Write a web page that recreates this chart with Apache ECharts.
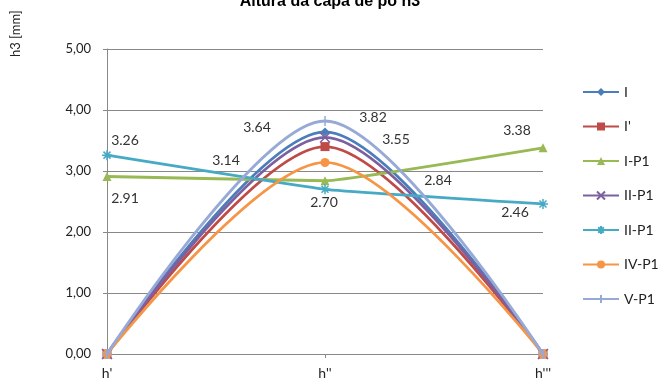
<!DOCTYPE html>
<html><head><meta charset="utf-8">
<script src="https://cdn.jsdelivr.net/npm/echarts@6/dist/echarts.min.js"></script>
<style>html,body{margin:0;padding:0;background:#fff}#c{width:660px;height:383px}</style>
</head><body><div id="c"></div>
<script>
const categories = ["h'", "h''", "h'''"];
const seriesNames = ["I", "I'", "I-P1", "II-P1", "II-P1 ", "IV-P1", "V-P1"];
const valI    = [0, 3.64, 0];
const valI2   = [0, 3.40, 0];
const valIP1  = [2.91, 2.84, 3.38];
const valIIP1 = [0, 3.55, 0];
const valIIIP1= [3.26, 2.70, 2.46];
const valIVP1 = [0, 3.14, 0];
const valVP1  = [0, 3.82, 0];
const yTicks = [0, 1, 2, 3, 4, 5];

const colors = ['#4A7EBB', '#BE4B48', '#98B954', '#7D60A0', '#46AAC5', '#F69546', '#97A9D6'];
const symbols = [
  'diamond', 'rect', 'triangle',
  'path://M0,0L10,10M10,0L0,10',
  'path://M5,0L5,10M0,5L10,5M1.5,1.5L8.5,8.5M8.5,1.5L1.5,8.5',
  'circle',
  'path://M5,0L5,10M0,5L10,5'
];
const strokeSym = [false, false, false, true, true, false, true];
const smoothing = [0.3, 0.3, 0.08, 0.3, 0.08, 0.3, 0.3];
const values = [valI, valI2, valIP1, valIIP1, valIIIP1, valIVP1, valVP1];
// label offsets (style only) per series per point; null = no label
const labelOffsets = [
  [null, [-68, -4], null],
  [null, null, null],
  [[18, 22], [113, 0], [-26, -17]],
  [null, [71, 2], null],
  [[18, -15], [-1, 13], [-28, 9]],
  [null, [-99, -2], null],
  [null, [48, -3], null]
];

const series = seriesNames.map((name, i) => ({
  name, type: 'line', smooth: smoothing[i],
  symbol: symbols[i], symbolSize: strokeSym[i] ? 10 : 9,
  showAllSymbol: true,
  lineStyle: { color: colors[i], width: 2.8 },
  itemStyle: strokeSym[i]
    ? { color: colors[i], borderColor: colors[i], borderWidth: 1.5 }
    : { color: colors[i] },
  z: 2 + i,
  data: values[i].map((v, j) => {
    const off = labelOffsets[i][j];
    return {
      value: v,
      label: off ? {
        show: true, position: 'inside', offset: off,
        formatter: (p) => p.value.toFixed(2),
        color: '#333', fontSize: 14, fontFamily: 'Lato, sans-serif'
      } : { show: false }
    };
  })
}));

const chart = echarts.init(document.getElementById('c'));
chart.setOption({
  animation: false,
  title: {
    text: 'Altura da capa de pó h3', left: 'center', top: -11,
    textStyle: { fontSize: 16, fontWeight: 'bold', color: '#000', fontFamily: 'Liberation Sans, sans-serif' }
  },
  graphic: [{
    type: 'text', x: 9, y: 57, rotation: Math.PI / 2,
    style: { text: 'h3 [mm]', fontSize: 13, fill: '#222', fontFamily: 'Lato, sans-serif' }
  }],
  legend: {
    orient: 'vertical', left: 577, top: 80,
    itemWidth: 36, itemHeight: 10, itemGap: 20.5,
    data: seriesNames,
    textStyle: { fontSize: 14, color: '#222', fontFamily: 'Lato, sans-serif' }
  },
  grid: { left: 107, right: 117, top: 49, bottom: 29, containLabel: false },
  xAxis: {
    type: 'category', data: categories, boundaryGap: false,
    axisLine: { lineStyle: { color: '#888', width: 1 } },
    axisTick: { show: true, alignWithLabel: true, length: 4, lineStyle: { color: '#888' } },
    axisLabel: { margin: 12, fontSize: 14, color: '#222', fontFamily: 'Lato, sans-serif' },
    splitLine: { show: false }
  },
  yAxis: {
    type: 'value', min: yTicks[0], max: yTicks[yTicks.length - 1], interval: 1,
    axisLine: { show: true, lineStyle: { color: '#888', width: 1 } },
    axisTick: { show: true, length: 4, lineStyle: { color: '#888' } },
    axisLabel: { margin: 16, fontSize: 13, color: '#222', fontFamily: 'Lato, sans-serif',
      formatter: (v) => v.toFixed(2).replace('.', ',') },
    splitLine: { lineStyle: { color: '#888', width: 1 } }
  },
  series
});
</script></body></html>
